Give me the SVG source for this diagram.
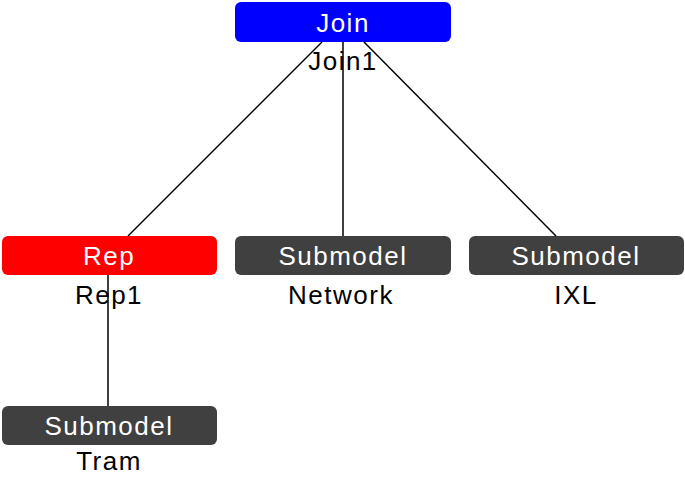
<svg xmlns="http://www.w3.org/2000/svg" width="685" height="477" viewBox="0 0 685 477">
<style>
.box{stroke:none}
.blue{fill:#0000ff}
.red{fill:#ff0000}
.sub{fill:#404040}
.t{font-family:"Liberation Sans",Arial,sans-serif;font-size:26px;text-anchor:middle;letter-spacing:1.5px}
.in{fill:#ffffff}
.lab{fill:#000000}
.edge{stroke:#000000;stroke-width:1.5;fill:none}
</style>
<rect width="685" height="477" fill="#ffffff"/>
<g id="join">
<rect class="box blue" x="235" y="2" width="216" height="40" rx="6"/>
<text class="t in" x="343" y="32">Join</text>
<text class="t lab" x="343" y="70">Join1</text>
</g>
<g id="rep">
<rect class="box red" x="2" y="236" width="215" height="39" rx="6"/>
<text class="t in" x="109" y="265">Rep</text>
<text class="t lab" x="109" y="304">Rep1</text>
</g>
<g id="network">
<rect class="box sub" x="235" y="236" width="216" height="39" rx="6"/>
<text class="t in" x="343" y="265">Submodel</text>
<text class="t lab" x="341" y="304">Network</text>
</g>
<g id="ixl">
<rect class="box sub" x="469" y="236" width="215" height="39" rx="6"/>
<text class="t in" x="576" y="265">Submodel</text>
<text class="t lab" x="576" y="304">IXL</text>
</g>
<g id="tram">
<rect class="box sub" x="2" y="406" width="215" height="39" rx="6"/>
<text class="t in" x="109" y="435">Submodel</text>
<text class="t lab" x="109" y="470">Tram</text>
</g>
<g id="connectors">
<line class="edge" x1="322" y1="42" x2="128" y2="236"/>
<line class="edge" x1="343" y1="42" x2="343" y2="236"/>
<line class="edge" x1="364" y1="42" x2="556" y2="236"/>
<line class="edge" x1="108" y1="275" x2="108" y2="406"/>
</g>
</svg>
